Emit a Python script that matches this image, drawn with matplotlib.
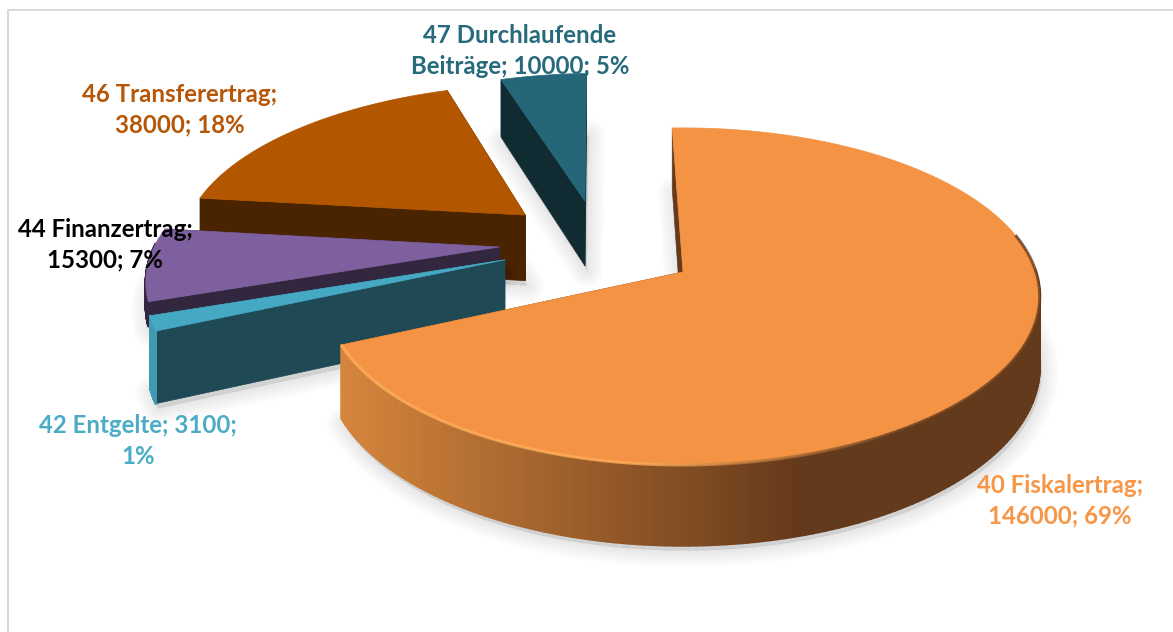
import numpy as np
import matplotlib
matplotlib.use("Agg")
import matplotlib.pyplot as plt
from matplotlib.collections import PolyCollection, LineCollection
from matplotlib.colors import to_rgb
from matplotlib.patches import Polygon

# data
names = ["40 Fiskalertrag", "42 Entgelte", "44 Finanzertrag", "46 Transferertrag", "47 Durchlaufende Beiträge"]
values = [146000, 3100, 15300, 38000, 10000]
labels = ["40 Fiskalertrag;\n146000; 69%", "42 Entgelte; 3100;\n1%", "44 Finanzertrag;\n15300; 7%",
          "46 Transferertrag;\n38000; 18%", "47 Durchlaufende\nBeiträge; 10000; 5%"]

# colours: top, cut face, outer rim, label
top_cols = ["#F49344", "#46A9C4", "#7F609E", "#B35600", "#256779"]
face_cols = ["#653A1B", "#1F4955", "#33263F", "#4A2300", "#112B33"]
rim_cols = ["#D5853C", "#3F9AB2", "#33263F", "#4A2300", "#112B33"]
label_cols = ["#F79646", "#4BACC6", "#000000", "#B65708", "#276A7C"]

# layout (disc units / pixels)
explode = [(0.0, 0.0), (-0.51, 0.075), (-0.532, 0.155), (-0.47, 0.363), (-0.296, 0.458)]
depth = [1.0, 1.0, 0.35, 1.0, 1.0]
label_pos = [(1060, 501), (138, 441), (105, 245), (180, 110), (520, 51)]
start_deg = -2.0
cx, cy = 683.0, 272.0
R, S, H, K = 353.0, 165.0, 69.0, 0.145

plt.rcParams["font.family"] = ["Lato", "DejaVu Sans"]


def project(u, v, z=0.0):
    # disc coords to pixels, with the back of the disc a bit smaller
    w = 1.0 + K * v
    return cx + R * u / w, cy - S * v / w + H * z / w


def mix(c1, c2, t):
    return tuple((1 - t) * a + t * b for a, b in zip(to_rgb(c1), to_rgb(c2)))


def outline(a0, a1, off, z=0.0):
    th = np.radians(np.linspace(a0, a1, 240))
    u = off[0] + np.sin(th)
    v = off[1] + np.cos(th)
    x, y = project(u, v, z)
    ax_, ay_ = project(off[0], off[1], z)
    return np.column_stack([np.r_[ax_, x], np.r_[ay_, y]])


def rim_color(i, x):
    if i != 0:
        return to_rgb(rim_cols[i])
    if x < 800:
        return mix("#D5853C", "#653A1B", np.clip((x - 345) / 455, 0, 1))
    return to_rgb("#633A1C")


def draw_slice(ax, i, a0, a1, off):
    base = outline(a0, a1, off, depth[i])
    top = outline(a0, a1, off, 0.0)
    th = np.radians(np.linspace(a0, a1, 240))

    # soft shadow under the slice
    for lw in np.arange(2, 26, 2):
        ax.add_patch(Polygon(base + [2, 5], closed=True, fc="k", ec="k", lw=lw, alpha=0.006,
                             joinstyle="round", zorder=i_order[i]))

    # cut faces
    for j in (1, -1):
        quad = [top[0], top[j], base[j], base[0]]
        ax.add_patch(Polygon(quad, closed=True, fc=face_cols[i], ec=face_cols[i], lw=0.5, zorder=i_order[i]))

    # outer rim, small quads so the front gets its gradient. back part is hidden anyway
    quads, cols = [], []
    for k in range(1, len(top) - 1):
        if np.cos(th[k - 1]) > 0.02:
            continue
        quads.append([top[k], top[k + 1], base[k + 1], base[k]])
        cols.append(rim_color(i, top[k][0]))
    if quads:
        ax.add_collection(PolyCollection(quads, facecolors=cols, edgecolors=cols, linewidths=1.5, zorder=i_order[i]))

    ax.add_patch(Polygon(top, closed=True, fc=top_cols[i], ec=top_cols[i], lw=0.5, zorder=i_order[i]))

    # bevel on the big slice
    if i == 0:
        segs = np.stack([top[1:-1], top[2:]], axis=1)
        front = (top[1:-1, 1] > 235)
        cc = [mix("#FFAE5C", "#633A1C", np.clip((x - 640) / 260, 0, 1)) for x in top[1:-1, 0]]
        ax.add_collection(LineCollection(segs[front], colors=np.array(cc)[front], linewidths=2.2,
                                         alpha=0.8, zorder=i_order[i]))


fig = plt.figure(figsize=(11.73, 6.32), dpi=100)
ax = fig.add_axes([0, 0, 1, 1])
ax.set_xlim(0, 1173)
ax.set_ylim(632, 0)
ax.axis("off")

# chart frame
ax.plot([8, 8, 1173], [632, 10, 10], color="#D9D9D9", lw=1.5, zorder=0)

fracs = np.array(values) / np.sum(values)
edges = start_deg + np.r_[0, np.cumsum(fracs)] * 360
i_order = {3: 1, 4: 2, 2: 3, 1: 4, 0: 5}

for i in [3, 4, 2, 1, 0]:
    draw_slice(ax, i, edges[i], edges[i + 1], explode[i])

for i, txt in enumerate(labels):
    ax.text(label_pos[i][0], label_pos[i][1], txt, color=label_cols[i], fontsize=17.3, fontweight="bold",
            ha="center", va="center", linespacing=1.38, zorder=10)

fig.savefig("out.png", dpi=100)
